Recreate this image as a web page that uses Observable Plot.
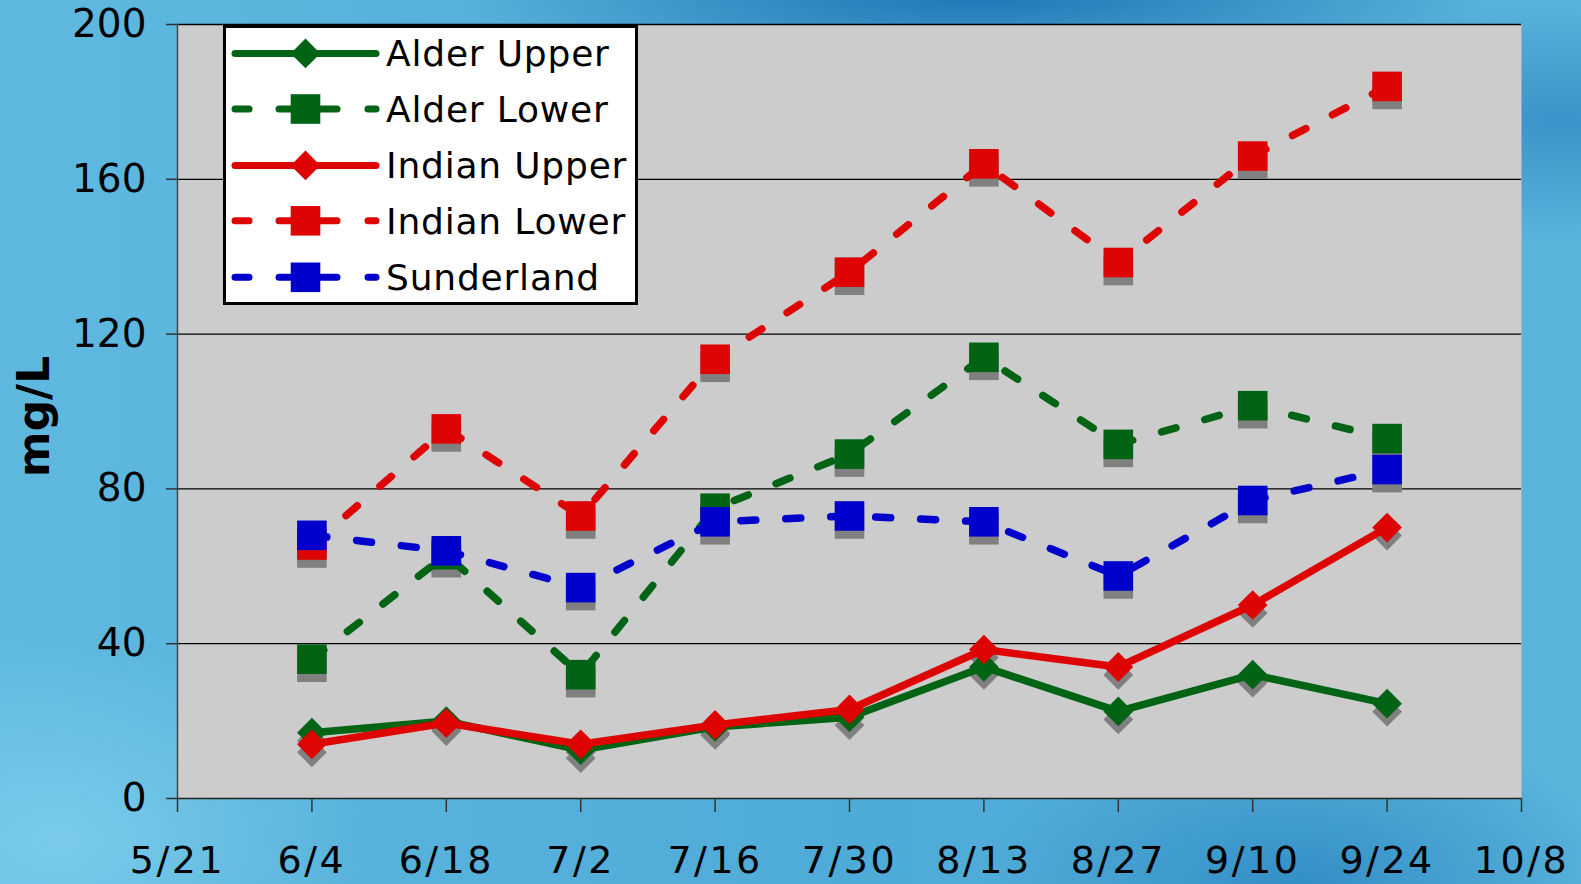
<!DOCTYPE html>
<html>
<head>
<meta charset="utf-8">
<script src="https://cdn.jsdelivr.net/npm/d3@7"></script>
<script src="https://cdn.jsdelivr.net/npm/@observablehq/plot@0.6"></script>
<style>
html, body { margin: 0; padding: 0; width: 1581px; height: 884px; overflow: hidden; }
body {
  position: relative;
  background-color: #55b0da;
  background-image:
    radial-gradient(ellipse 520px 70px at 980px 0px, rgba(25,110,175,0.85), rgba(25,110,175,0)),
    radial-gradient(ellipse 260px 120px at 1560px 120px, rgba(30,120,185,0.55), rgba(30,120,185,0)),
    radial-gradient(ellipse 330px 160px at 1300px 884px, rgba(30,120,185,0.6), rgba(30,120,185,0)),
    radial-gradient(ellipse 300px 200px at 60px 840px, rgba(140,215,240,0.6), rgba(140,215,240,0)),
    linear-gradient(to right, #5fb9df 0%, #4eaad7 55%, #5ab4dc 100%);
  font-family: "DejaVu Sans", sans-serif;
}
#chart { position: absolute; left: 0; top: 0; }
#chart g[aria-label="x-axis tick label"] text { letter-spacing: 2.5px; }
#legend {
  position: absolute; left: 223px; top: 25px; width: 415px; height: 280px;
  box-sizing: border-box; border: 3px solid #000; background: #fff;
}
#legend svg { position: absolute; left: 0; top: 0; }
</style>
</head>
<body>
<div id="chart"></div>
<div id="legend"></div>
<script>
// ---- data ----
const tickLabels = ["5/21", "6/4", "6/18", "7/2", "7/16", "7/30", "8/13", "8/27", "9/10", "9/24", "10/8"];
const sampleDates = ["6/4", "6/18", "7/2", "7/16", "7/30", "8/13", "8/27", "9/10", "9/24"];
const seriesNames = ["Alder Upper", "Alder Lower", "Indian Upper", "Indian Lower", "Sunderland"];
const alderUpper  = [17, 20, 12.5, 18.5, 21, 34, 22.5, 32, 24.5];
const alderLower  = [36, 63, 32, 75, 89, 114, 91.5, 101.5, 93];
const indianUpper = [14, 19.5, 14, 19, 23, 38.5, 34, 50, 70];
const indianLower = [65.5, 95.5, 73, 113.5, 136, 164, 138.5, 166, 184];
const sunderland  = [68, 64, 54.5, 71.5, 73, 71.5, 57.5, 77, 85];
const yTicks = [0, 40, 80, 120, 160, 200];
const yLabel = "mg/L";

// ---- styles ----
const seriesValues = [alderUpper, alderLower, indianUpper, indianLower, sunderland];
const seriesColors = ["#006414", "#006414", "#de0404", "#de0404", "#0000cc"];
const seriesSymbols = ["diamond2", "square", "diamond2", "square", "square"];
const seriesDashed = [false, true, false, true, true];
const symbolR = {diamond2: 13.4, square: 16.7};
const FONT = "DejaVu Sans";

const parse = s => { const [m, d] = s.split("/").map(Number); return new Date(Date.UTC(2003, m - 1, d)); };
const fmt = d => `${d.getUTCMonth() + 1}/${d.getUTCDate()}`;
const tickDates = tickLabels.map(parse);

const rows = [];
seriesNames.forEach((name, i) => {
  sampleDates.forEach((s, j) => {
    rows.push({series: name, idx: i, date: parse(s), value: seriesValues[i][j]});
  });
});

const marks = [
  Plot.frame({fill: "#cccccc", stroke: null}),
  Plot.gridY(yTicks.filter(v => v > 0), {stroke: "#000", strokeOpacity: 1, strokeWidth: 1.3}),
  Plot.ruleX([tickDates[0]], {stroke: "#444", strokeWidth: 1.5}),
  Plot.ruleY([0], {stroke: "#222", strokeWidth: 1.5}),
  // marker shadows
  ...["diamond2", "square"].map(sym =>
    Plot.dot(rows.filter(r => seriesSymbols[r.idx] === sym), {
      x: "date", y: "value", symbol: sym, r: symbolR[sym], fill: "#808080", dy: 8
    })
  )
];

seriesNames.forEach((name, i) => {
  const data = rows.filter(r => r.idx === i);
  marks.push(Plot.line(data, {
    x: "date", y: "value", stroke: seriesColors[i], strokeWidth: 7.5,
    strokeDasharray: seriesDashed[i] ? "15,30" : null,
    strokeLinecap: "round", strokeLinejoin: "round"
  }));
  marks.push(Plot.dot(data, {
    x: "date", y: "value", symbol: seriesSymbols[i], r: symbolR[seriesSymbols[i]],
    fill: seriesColors[i], stroke: null
  }));
});

marks.push(
  Plot.axisX({ticks: tickDates, tickFormat: fmt, tickSize: 14, tickPadding: 34,
    stroke: "#333", strokeWidth: 1.5, fill: "#000", fontSize: 38}),
  Plot.axisY({ticks: yTicks, tickSize: 11, tickPadding: 20,
    stroke: "#333", strokeWidth: 1.5, fill: "#000", fontSize: 39}),
  Plot.text([yLabel], {frameAnchor: "left", dx: -143, dy: 5, rotate: -90, text: d => d,
    fontSize: 44, fontWeight: "bold", fill: "#000", textAnchor: "middle", lineAnchor: "middle"})
);

const chart = Plot.plot({
  width: 1581, height: 884,
  marginLeft: 177, marginRight: 60, marginTop: 24, marginBottom: 86,
  style: {background: "transparent", fontFamily: FONT, fontSize: "39px", color: "#000", overflow: "visible"},
  x: {type: "utc", domain: [tickDates[0], tickDates[tickDates.length - 1]], label: null},
  y: {domain: [0, 200], label: null},
  marks
});
document.getElementById("chart").appendChild(chart);

// ---- legend ----
const lg = d3.select("#legend").append("svg").attr("width", 409).attr("height", 274)
  .style("font-family", FONT);
const rowY = [25.4, 81, 137.4, 192.8, 249.3];
seriesNames.forEach((name, i) => {
  const g = lg.append("g").attr("transform", `translate(0,${rowY[i]})`);
  const segs = seriesDashed[i] ? [[9, 23], [53, 111], [142, 150]] : [[9, 150]];
  segs.forEach(([a, b]) => g.append("line").attr("x1", a).attr("x2", b).attr("y1", 0).attr("y2", 0)
    .attr("stroke", seriesColors[i]).attr("stroke-width", 7).attr("stroke-linecap", "round"));
  const sym = seriesSymbols[i] === "square" ? d3.symbolSquare : d3.symbolDiamond2;
  const size = Math.PI * symbolR[seriesSymbols[i]] ** 2;
  g.append("path").attr("d", d3.symbol(sym, size)()).attr("transform", "translate(79.5,0)")
    .attr("fill", seriesColors[i]);
  g.append("text").attr("x", 160).attr("y", 0).attr("dy", "0.36em").attr("font-size", 36)
    .attr("letter-spacing", "0.8px").attr("fill", "#000").text(name);
});
</script>
</body>
</html>
